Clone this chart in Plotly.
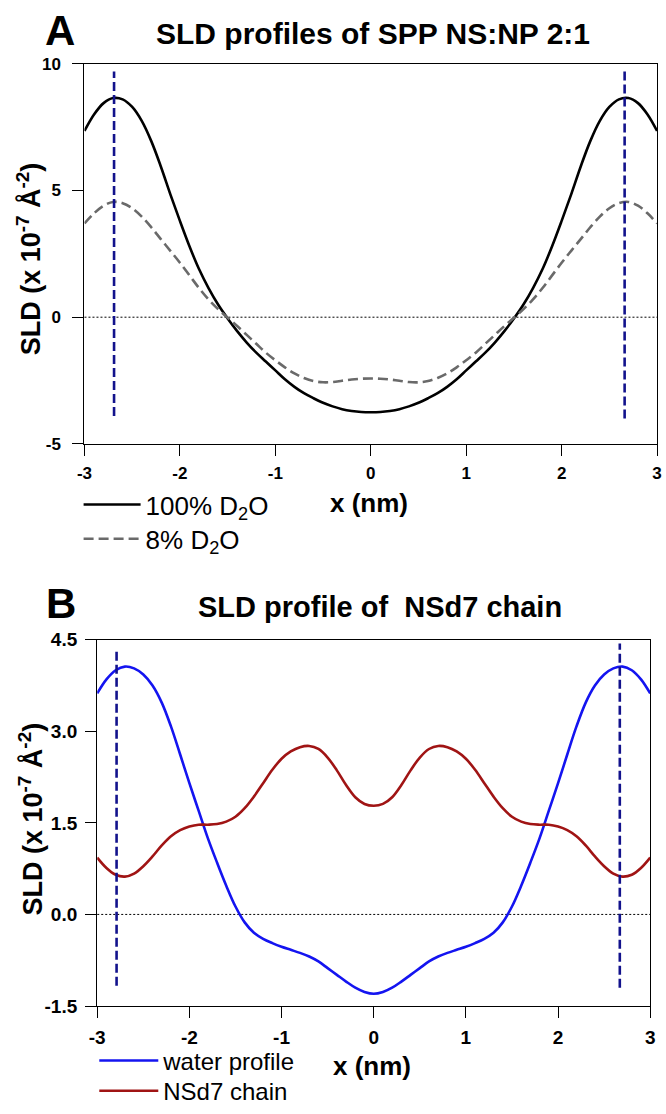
import plotly.graph_objects as go

# ---------------- data ----------------
x_grid = [-3.0, -2.9, -2.8, -2.7, -2.6, -2.5, -2.4, -2.3, -2.2, -2.1, -2.0,
          -1.9, -1.8, -1.7, -1.6, -1.5, -1.4, -1.3, -1.2, -1.1, -1.0,
          -0.9, -0.8, -0.7, -0.6, -0.5, -0.4, -0.3, -0.2, -0.1, 0.0,
          0.1, 0.2, 0.3, 0.4, 0.5, 0.6, 0.7, 0.8, 0.9, 1.0,
          1.1, 1.2, 1.3, 1.4, 1.5, 1.6, 1.7, 1.8, 1.9, 2.0,
          2.1, 2.2, 2.3, 2.4, 2.5, 2.6, 2.7, 2.8, 2.9, 3.0]

sld_100_d2o = [7.35, 8.0, 8.45, 8.65, 8.6, 8.3, 7.75, 6.95, 5.95, 4.85, 3.8,
               2.8, 1.9, 1.15, 0.5, -0.05, -0.55, -1.0, -1.4, -1.75, -2.1,
               -2.45, -2.75, -3.0, -3.2, -3.38, -3.52, -3.63, -3.7, -3.74, -3.75,
               -3.74, -3.7, -3.63, -3.52, -3.38, -3.2, -3.0, -2.75, -2.45, -2.1,
               -1.75, -1.4, -1.0, -0.55, -0.05, 0.5, 1.15, 1.9, 2.8, 3.8,
               4.85, 5.95, 6.95, 7.75, 8.3, 8.6, 8.65, 8.45, 8.0, 7.35]

sld_8_d2o = [3.7, 4.1, 4.4, 4.55, 4.5, 4.3, 3.97, 3.55, 3.08, 2.62, 2.15,
             1.65, 1.15, 0.7, 0.32, -0.02, -0.35, -0.7, -1.05, -1.4, -1.7,
             -1.98, -2.22, -2.4, -2.52, -2.57, -2.56, -2.51, -2.46, -2.43, -2.42,
             -2.43, -2.46, -2.51, -2.56, -2.57, -2.52, -2.4, -2.22, -1.98, -1.7,
             -1.4, -1.05, -0.7, -0.35, -0.02, 0.32, 0.7, 1.15, 1.65, 2.15,
             2.62, 3.08, 3.55, 3.97, 4.3, 4.5, 4.55, 4.4, 4.1, 3.7]

water_profile = [3.62, 3.85, 4.0, 4.06, 4.03, 3.93, 3.75, 3.47, 3.08, 2.62, 2.15,
                 1.7, 1.25, 0.85, 0.47, 0.13, -0.13, -0.3, -0.4, -0.47, -0.53,
                 -0.58, -0.63, -0.69, -0.77, -0.88, -0.99, -1.1, -1.2, -1.27, -1.3,
                 -1.27, -1.2, -1.1, -0.99, -0.88, -0.77, -0.69, -0.63, -0.58, -0.53,
                 -0.47, -0.4, -0.3, -0.13, 0.13, 0.47, 0.85, 1.25, 1.7, 2.15,
                 2.62, 3.08, 3.47, 3.75, 3.93, 4.03, 4.06, 4.0, 3.85, 3.62]

nsd7_chain = [0.93, 0.76, 0.65, 0.62, 0.67, 0.79, 0.95, 1.13, 1.28, 1.38, 1.44,
              1.47, 1.47, 1.48, 1.52, 1.6, 1.74, 1.93, 2.15, 2.37, 2.55,
              2.67, 2.74, 2.76, 2.71, 2.57, 2.36, 2.12, 1.92, 1.81, 1.78,
              1.81, 1.92, 2.12, 2.36, 2.57, 2.71, 2.76, 2.74, 2.67, 2.55,
              2.37, 2.15, 1.93, 1.74, 1.6, 1.52, 1.48, 1.47, 1.47, 1.44,
              1.38, 1.28, 1.13, 0.95, 0.79, 0.67, 0.62, 0.65, 0.76, 0.93]

# vertical dashed marker lines (x position, bottom, top)
markers_A = [(-2.69, -3.9, 9.7), (2.66, -4.0, 9.7)]
markers_B = [(-2.79, -1.17, 4.36), (2.67, -1.2, 4.44)]

x_ticks = [-3, -2, -1, 0, 1, 2, 3]
x_ticklabels = ["-3", "-2", "-1", "0", "1", "2", "3"]
yA_ticks = [-5, 0, 5, 10]
yA_ticklabels = ["-5", "0", "5", "10"]
yB_ticks = [-1.5, 0.0, 1.5, 3.0, 4.5]
yB_ticklabels = ["-1.5", "0.0", "1.5", "3.0", "4.5"]

# ---------------- layout geometry ----------------
W, H = 666, 1114
def px_x(p): return p / W
def px_y(p): return 1 - p / H

FONT = "Liberation Sans, Arial, sans-serif"
NAVY = "#12128c"

fig = go.Figure()

# Panel A
fig.add_trace(go.Scatter(x=x_grid, y=sld_100_d2o, mode="lines", name="100% D<sub>2</sub>O",
                         line=dict(color="black", width=2.6, shape="spline"),
                         xaxis="x", yaxis="y", legend="legend"))
fig.add_trace(go.Scatter(x=x_grid, y=sld_8_d2o, mode="lines", name="8% D<sub>2</sub>O",
                         line=dict(color="#6a6a6a", width=2.6, dash="10px,5px", shape="spline"),
                         xaxis="x", yaxis="y", legend="legend2"))
for xm, y0, y1 in markers_A:
    fig.add_trace(go.Scatter(x=[xm, xm], y=[y0, y1], mode="lines", showlegend=False,
                             line=dict(color=NAVY, width=2.6, dash="9px,4px"),
                             xaxis="x", yaxis="y", hoverinfo="skip"))

# Panel B
fig.add_trace(go.Scatter(x=x_grid, y=water_profile, mode="lines", name="water profile",
                         line=dict(color="#1414f0", width=2.6, shape="spline"),
                         xaxis="x2", yaxis="y2", legend="legend3"))
fig.add_trace(go.Scatter(x=x_grid, y=nsd7_chain, mode="lines", name="NSd7 chain",
                         line=dict(color="#a01414", width=2.6, shape="spline"),
                         xaxis="x2", yaxis="y2", legend="legend4"))
for xm, y0, y1 in markers_B:
    fig.add_trace(go.Scatter(x=[xm, xm], y=[y0, y1], mode="lines", showlegend=False,
                             line=dict(color=NAVY, width=2.6, dash="9px,4px"),
                             xaxis="x2", yaxis="y2", hoverinfo="skip"))

# zero reference lines
fig.add_hline(y=0, line=dict(color="black", width=1, dash="2px,2px"), xref="x", yref="y", layer="below")
fig.add_hline(y=0, line=dict(color="black", width=1, dash="2px,2px"), xref="x2", yref="y2", layer="below")

def axis_style(size):
    return dict(showgrid=False, zeroline=False, showline=True, linecolor="black",
                linewidth=1.3, mirror=True, ticks="outside", ticklen=11, tickwidth=1.3,
                tickcolor="black",
                tickfont=dict(family=FONT, size=size, color="black", weight="bold"))

fig.update_layout(
    width=W, height=H, autosize=False,
    margin=dict(l=0, r=0, t=0, b=0),
    paper_bgcolor="white", plot_bgcolor="white",
    font=dict(family=FONT, color="black"),
    xaxis=dict(domain=[px_x(78), px_x(662)], range=[-3, 3], anchor="y",
               tickvals=x_ticks, ticktext=x_ticklabels, ticklabelstandoff=3, **axis_style(17)),
    yaxis=dict(domain=[px_y(443), px_y(55)], range=[-5, 10], anchor="x",
               tickvals=yA_ticks, ticktext=yA_ticklabels, ticklabelstandoff=8, **axis_style(17)),
    xaxis2=dict(domain=[px_x(91), px_x(655)], range=[-3, 3], anchor="y2",
                tickvals=x_ticks, ticktext=x_ticklabels, ticklabelstandoff=3, **axis_style(19)),
    yaxis2=dict(domain=[px_y(1017), px_y(643)], range=[-1.5, 4.5], anchor="x2",
                tickvals=yB_ticks, ticktext=yB_ticklabels, ticklabelstandoff=4, **axis_style(19)),
)

def leg(xp, yp, iw, size):
    return dict(x=px_x(xp), y=px_y(yp), xanchor="left", yanchor="middle",
                bgcolor="rgba(0,0,0,0)", borderwidth=0, itemwidth=iw,
                font=dict(family=FONT, size=size, color="black"))
fig.update_layout(legend=leg(72, 505, 57, 26), legend2=leg(72, 540, 57, 26),
                  legend3=leg(88, 1073, 59, 24), legend4=leg(88, 1104, 59, 24))

def ann(text, xp, yp, size, angle=0, bold=True):
    fig.add_annotation(text=text, x=px_x(xp), y=px_y(yp), xref="paper", yref="paper",
                       showarrow=False, textangle=angle, xanchor="center", yanchor="middle",
                       font=dict(family=FONT, size=size, color="black",
                                 weight="bold" if bold else "normal"))

ann("A", 53, 21, 42)
ann("SLD profiles of SPP NS:NP 2:1", 372, 24, 30)
ann("B", 54, 606, 42)
ann("SLD profile of  NSd7 chain", 379, 610, 29)
ann("SLD (x 10<sup>-7</sup> Å<sup>-2</sup>)", 21, 254, 27, angle=-90)
ann("SLD (x 10<sup>-7</sup> Å<sup>-2</sup>)", 23, 826, 27, angle=-90)
ann("x (nm)", 368, 503, 26)
ann("x (nm)", 371, 1078, 26)

fig.write_html("out.html", config={"displayModeBar": False},
               post_script="document.body.style.margin='0';document.body.style.overflow='hidden';")
